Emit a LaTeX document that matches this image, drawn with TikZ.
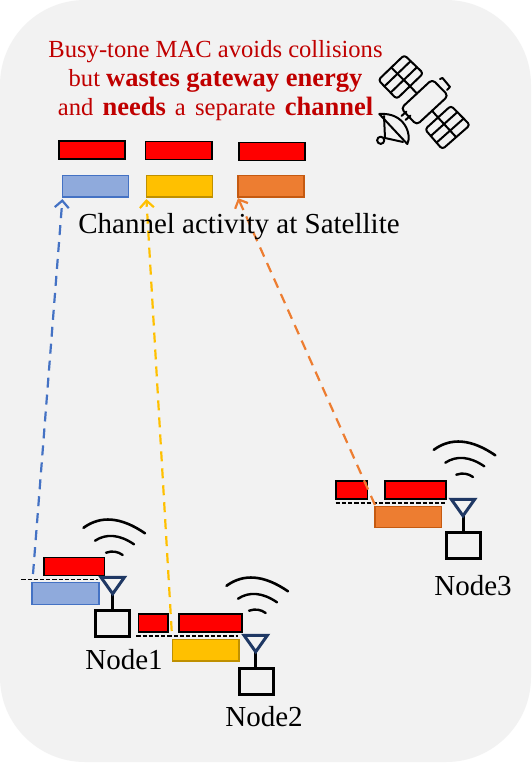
\documentclass[tikz,border=0pt]{standalone}
\usepackage{fontspec}
\setmainfont{Liberation Serif}
\usetikzlibrary{arrows.meta,calc}
\definecolor{panelgrey}{HTML}{F2F2F2}
\definecolor{msgred}{HTML}{C00000}
\definecolor{bluefill}{HTML}{8FAADC}
\definecolor{blueline}{HTML}{4472C4}
\definecolor{yellowfill}{HTML}{FFC000}
\definecolor{yellowline}{HTML}{BF9000}
\definecolor{orangefill}{HTML}{ED7D31}
\definecolor{orangeline}{HTML}{C55A11}
\definecolor{navy}{HTML}{1F3864}
\newcommand{\bigbold}[1]{{\fontsize{26.5}{29}\selectfont\textbf{#1}}}
\tikzset{
  x=1pt,y=-1pt,
  bar/.style={rectangle,inner sep=0pt,outer sep=0pt,minimum height=#1},
  redbar/.style={bar=17.7pt,draw=black,fill=red,line width=1.6pt},
  bluebar/.style={bar=21.4pt,draw=blueline,fill=bluefill,line width=1.3pt},
  yellowbar/.style={bar=21.4pt,draw=yellowline,fill=yellowfill,line width=1.3pt},
  orangebar/.style={bar=21.4pt,draw=orangeline,fill=orangefill,line width=1.3pt},
  nodebox/.style={rectangle,inner sep=0pt,outer sep=0pt,draw=black,line width=3pt,fill=panelgrey,minimum width=34pt,minimum height=26pt},
  nodelabel/.style={font=\fontsize{29}{32}\selectfont,inner sep=0pt},
  carrier/.style={line width=1.2pt,dash pattern=on 4.2pt off 2pt,black},
  uplink/.style={line width=2.2pt,dash pattern=on 10pt off 7pt,-{Straight Barb[length=7pt,width=14pt,line width=2.2pt]}},
  sat/.style={line width=2pt,black,line join=round,line cap=round},
  antenna/.pic={
    \draw[black,line width=2.6pt,line cap=round] (-29.2,-49.5) .. controls (-12.2,-62) and (8.3,-60.5) .. (32.3,-44);
    \draw[black,line width=2.4pt,line cap=round] (-17.7,-36.6) .. controls (-6.4,-44) and (6.8,-42.9) .. (21.3,-33);
    \draw[black,line width=2.4pt,line cap=round] (-6.7,-24.6) .. controls (-0.3,-26.7) and (5,-25.9) .. (10,-22.3);
    \draw[black,line width=3pt] (0,14) -- (0,33);
    \draw[navy,line width=3pt,line join=miter] (-11.7,0) -- (11.7,0) -- (0,16.5) -- cycle;
  }
}
\begin{document}
\begin{tikzpicture}
\useasboundingbox (0,0) rectangle (531,763);
\fill[white] (0,0) rectangle (531,763);
\fill[panelgrey,rounded corners=85pt] (0,0) rectangle (531,762);

% satellite-side boxes
\node[redbar,minimum width=66pt] (satR1) at (92,150) {};
\node[redbar,minimum width=66.4pt] (satR2) at (178.6,150.5) {};
\node[redbar,minimum width=65.9pt] (satR3) at (272,151.5) {};
\node[bluebar,minimum width=66pt] (satB) at (95.4,186.4) {};
\node[yellowbar,minimum width=65.8pt] (satY) at (179.3,186.4) {};
\node[orangebar,minimum width=65.9pt] (satO) at (271,186.4) {};

% Node 1
\node[redbar,minimum width=60.7pt] (oneR) at (74.3,566.5) {};
\node[bluebar,minimum width=67pt] (oneB) at (65.5,593.5) {};
\node[nodebox] (box1) at (112.5,623.7) {};
\pic at (112.7,577.3) {antenna};
\node[nodelabel] (lab1) at (124,660) {Node1};
\coordinate (oneDa) at (21.3,579.3);
\coordinate (oneDb) at (98,579.3);
\draw[carrier] (oneDa) -- (oneDb);
\coordinate (oneUp) at (33,574);

% Node 2
\node[redbar,minimum width=29.4pt] (twoRa) at (153,623) {};
\node[redbar,minimum width=63pt] (twoRb) at (210.5,623) {};
\node[yellowbar,minimum width=66.7pt] (twoY) at (205.7,650.4) {};
\node[nodebox] (box2) at (256.2,681.7) {};
\pic at (255.7,635.3) {antenna};
\node[nodelabel] (lab2) at (264,717) {Node2};
\coordinate (twoDa) at (136.3,636);
\coordinate (twoDb) at (238,636);
\draw[carrier] (twoDa) -- (twoDb);
\coordinate (twoUp) at (171.7,631);

% Node 3
\node[redbar,minimum width=31.7pt] (threeRa) at (351.8,489.9) {};
\node[redbar,minimum width=61pt] (threeRb) at (415.2,489.9) {};
\node[orangebar,minimum width=66.7pt] (threeO) at (408.3,517) {};
\node[nodebox] (box3) at (463.2,545.8) {};
\pic at (463,499.3) {antenna};
\node[nodelabel] (lab3) at (473,586) {Node3};
\coordinate (threeDa) at (335.7,503);
\coordinate (threeDb) at (446,503);
\draw[carrier] (threeDa) -- (threeDb);
\coordinate (threeUp) at (375,505);

% uplinks
\draw[uplink,blueline] (oneUp) -- ([yshift=-2pt]satB.south west);
\draw[uplink,yellowfill] (twoUp) -- ([yshift=-2pt]satY.south west);
\draw[uplink,orangefill] (threeUp) -- ([yshift=-1pt]satO.south west);

% texts
\node[font=\fontsize{24.6}{29}\selectfont,text=msgred,align=center,inner sep=0pt] (msg) at (215.5,81)
  {Busy-tone MAC avoids collisions\\but \bigbold{wastes gateway energy}\\and\hspace{3pt} \bigbold{needs}\hspace{3pt} a\hspace{3pt} separate\hspace{3pt} \bigbold{channel}};
\node[font=\fontsize{29}{32}\selectfont,inner sep=0pt] (act) at (239,227) {Channel activity at Satellite};

% satellite icon
\coordinate (pa) at (404.3,55); \coordinate (pb) at (423.3,73.3);
\coordinate (pc) at (396.7,99); \coordinate (pd) at (378.3,80);
\coordinate (qa) at (451,105.7); \coordinate (qb) at (470,125);
\coordinate (qc) at (442.3,149.3); \coordinate (qd) at (425,129.3);
\draw[sat,rounded corners=3pt] (pa) -- (pb) -- (pc) -- (pd) -- cycle;
\draw[sat] ($(pa)!1/3!(pb)$) -- ($(pd)!1/3!(pc)$);
\draw[sat] ($(pa)!2/3!(pb)$) -- ($(pd)!2/3!(pc)$);
\draw[sat] ($(pa)!.5!(pd)$) -- ($(pb)!.5!(pc)$) -- (417,93.6);
\draw[sat,rounded corners=3pt] (qa) -- (qb) -- (qc) -- (qd) -- cycle;
\draw[sat] ($(qa)!1/3!(qb)$) -- ($(qd)!1/3!(qc)$);
\draw[sat] ($(qa)!2/3!(qb)$) -- ($(qd)!2/3!(qc)$);
\draw[sat] ($(qb)!.5!(qc)$) -- ($(qa)!.5!(qd)$) -- (432,110.7);
\draw[sat,rounded corners=4pt] (432.3,79.3) -- (448.3,95.7) -- (416.7,125) -- (401,108.3) -- cycle;
\draw[sat] (440,79) -- (442.5,78) -- (450,87) -- (447,90);
\draw[sat] (401.5,116) -- (406.5,111.5);
\draw[sat] (405.5,120) -- (410.5,115.5);
\draw[sat] (379.3,114) .. controls (405,112) and (412,135) .. (407.3,144) -- cycle;
\draw[sat] (384,116) -- (385,138) -- (403,142);
\draw[sat] (380.7,140.3) circle (3.6pt);
\end{tikzpicture}
\end{document}
